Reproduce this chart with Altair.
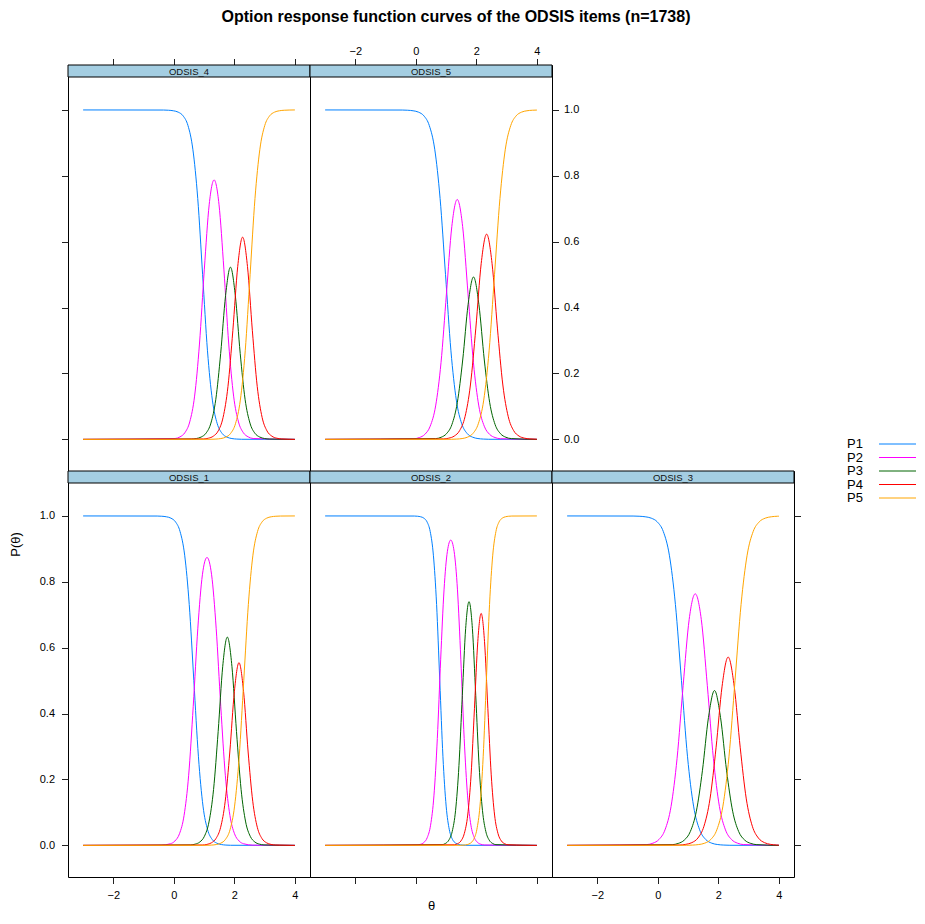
import altair as alt
import pandas as pd

SERIES = ["P1", "P2", "P3", "P4", "P5"]
COLORS = ["#0080ff", "#ff00ff", "#006400", "#ff0000", "#ffa500"]
X_TICKS = [-2, 0, 2, 4]
Y_TICKS = [0.0, 0.2, 0.4, 0.6, 0.8, 1.0]
TITLE = "Option response function curves of the ODSIS items (n=1738)"

# ---------------- ODSIS_1 ----------------
o1_p1_theta = [-3, -0.552, -0.401, -0.249, -0.098, 0.054, 0.205, 0.357, 0.508, 0.66, 0.812, 0.963, 1.115, 1.266, 1.418, 1.569, 1.72, 1.872, 4]
o1_p1_prob = [1.0, 0.9997, 0.9991, 0.9975, 0.9933, 0.982, 0.9526, 0.8808, 0.7311, 0.5, 0.2689, 0.1192, 0.0474, 0.018, 0.0067, 0.0025, 0.0009, 0.0003, 0.0]
o1_p2_theta = [-3, -0.42, -0.117, 0.034, 0.186, 0.337, 0.489, 0.64, 0.792, 0.943, 1.095, 1.247, 1.398, 1.55, 1.701, 1.853, 2.004, 2.156, 2.307, 2.61, 4]
o1_p2_prob = [0, 0.0007, 0.0049, 0.0133, 0.0354, 0.0907, 0.2129, 0.4222, 0.6592, 0.8214, 0.874, 0.8214, 0.6592, 0.4222, 0.2129, 0.0907, 0.0354, 0.0133, 0.0049, 0.0007, 0]
o1_p3_theta = [-3, 0.555, 0.706, 0.858, 1.009, 1.161, 1.312, 1.464, 1.615, 1.767, 1.919, 2.07, 2.222, 2.373, 2.525, 2.676, 2.828, 2.979, 4]
o1_p3_prob = [0, 0.0014, 0.0038, 0.0103, 0.0275, 0.0711, 0.1698, 0.3456, 0.5436, 0.6322, 0.5436, 0.3456, 0.1698, 0.0711, 0.0275, 0.0103, 0.0038, 0.0014, 0]
o1_p4_theta = [-3, 0.94, 1.091, 1.243, 1.394, 1.546, 1.697, 1.849, 2.0, 2.152, 2.304, 2.455, 2.607, 2.758, 2.91, 3.061, 3.213, 3.364, 4]
o1_p4_prob = [0, 0.0011, 0.0029, 0.0079, 0.0211, 0.0549, 0.1339, 0.2834, 0.4669, 0.5546, 0.4669, 0.2834, 0.1339, 0.0549, 0.0211, 0.0079, 0.0029, 0.0011, 0]
o1_p5_theta = [-3, 1.098, 1.25, 1.401, 1.553, 1.704, 1.856, 2.007, 2.159, 2.31, 2.462, 2.613, 2.765, 2.916, 3.068, 3.219, 3.371, 3.522, 4]
o1_p5_prob = [0.0, 0.0003, 0.0009, 0.0025, 0.0067, 0.018, 0.0474, 0.1192, 0.2689, 0.5, 0.7311, 0.8808, 0.9526, 0.982, 0.9933, 0.9975, 0.9991, 0.9997, 1.0]

# ---------------- ODSIS_2 ----------------
o2_p1_theta = [-3, -0.052, 0.053, 0.158, 0.264, 0.369, 0.474, 0.579, 0.685, 0.79, 0.895, 1.001, 1.106, 1.211, 1.316, 1.422, 1.527, 1.632, 4]
o2_p1_prob = [1.0, 0.9997, 0.9991, 0.9975, 0.9933, 0.982, 0.9526, 0.8808, 0.7311, 0.5, 0.2689, 0.1192, 0.0474, 0.018, 0.0067, 0.0025, 0.0009, 0.0003, 0.0]
o2_p2_theta = [-3, 0.042, 0.153, 0.264, 0.375, 0.486, 0.597, 0.709, 0.82, 0.931, 1.042, 1.153, 1.264, 1.375, 1.486, 1.597, 1.709, 1.82, 1.931, 2.042, 2.153, 2.264, 4]
o2_p2_prob = [0, 0.0012, 0.0032, 0.0087, 0.0234, 0.0611, 0.1503, 0.3245, 0.5652, 0.7756, 0.8926, 0.9268, 0.8926, 0.7756, 0.5652, 0.3245, 0.1503, 0.0611, 0.0234, 0.0087, 0.0032, 0.0012, 0]
o2_p3_theta = [-3, 0.868, 0.979, 1.09, 1.201, 1.313, 1.424, 1.535, 1.646, 1.757, 1.868, 1.979, 2.09, 2.201, 2.313, 2.424, 2.535, 2.646, 4]
o2_p3_prob = [0, 0.0022, 0.0059, 0.0159, 0.0421, 0.1064, 0.2423, 0.4552, 0.6588, 0.7398, 0.6588, 0.4552, 0.2423, 0.1064, 0.0421, 0.0159, 0.0059, 0.0022, 0]
o2_p4_theta = [-3, 1.269, 1.38, 1.491, 1.602, 1.714, 1.825, 1.936, 2.047, 2.158, 2.269, 2.38, 2.491, 2.602, 2.714, 2.825, 2.936, 3.047, 4]
o2_p4_prob = [0, 0.0018, 0.005, 0.0136, 0.0362, 0.0921, 0.2141, 0.4148, 0.6191, 0.704, 0.6191, 0.4148, 0.2141, 0.0921, 0.0362, 0.0136, 0.005, 0.0018, 0]
o2_p5_theta = [-3, 1.488, 1.593, 1.698, 1.804, 1.909, 2.014, 2.119, 2.225, 2.33, 2.435, 2.541, 2.646, 2.751, 2.856, 2.962, 3.067, 3.172, 4]
o2_p5_prob = [0.0, 0.0003, 0.0009, 0.0025, 0.0067, 0.018, 0.0474, 0.1192, 0.2689, 0.5, 0.7311, 0.8808, 0.9526, 0.982, 0.9933, 0.9975, 0.9991, 0.9997, 1.0]

# ---------------- ODSIS_3 ----------------
o3_p1_theta = [-3, -0.82, -0.62, -0.42, -0.22, -0.02, 0.18, 0.38, 0.58, 0.78, 0.98, 1.18, 1.38, 1.58, 1.78, 1.98, 2.18, 2.38, 4]
o3_p1_prob = [1.0, 0.9997, 0.9991, 0.9975, 0.9933, 0.982, 0.9526, 0.8808, 0.7311, 0.5, 0.2689, 0.1192, 0.0474, 0.018, 0.0067, 0.0025, 0.0009, 0.0003, 0.0]
o3_p2_theta = [-3, -0.365, -0.165, 0.035, 0.235, 0.435, 0.635, 0.835, 1.035, 1.235, 1.435, 1.635, 1.835, 2.035, 2.235, 2.435, 2.635, 2.835, 4]
o3_p2_prob = [0, 0.0024, 0.0066, 0.0178, 0.047, 0.1178, 0.2643, 0.4847, 0.686, 0.7636, 0.686, 0.4847, 0.2643, 0.1178, 0.047, 0.0178, 0.0066, 0.0024, 0]
o3_p3_theta = [-3, 0.472, 0.672, 0.872, 1.072, 1.272, 1.472, 1.672, 1.872, 2.072, 2.272, 2.472, 2.672, 2.872, 3.072, 3.272, 4]
o3_p3_prob = [0, 0.0022, 0.0059, 0.0159, 0.0418, 0.1037, 0.2264, 0.3879, 0.47, 0.3879, 0.2264, 0.1037, 0.0418, 0.0159, 0.0059, 0.0022, 0]
o3_p4_theta = [-3, 0.723, 0.923, 1.123, 1.323, 1.523, 1.723, 1.923, 2.123, 2.323, 2.523, 2.723, 2.923, 3.123, 3.323, 3.523, 3.723, 3.923, 4]
o3_p4_prob = [0, 0.0011, 0.0031, 0.0083, 0.0223, 0.058, 0.1411, 0.2962, 0.4833, 0.5716, 0.4833, 0.2962, 0.1411, 0.058, 0.0223, 0.0083, 0.0031, 0.0011, 0.0008]
o3_p5_theta = [-3, 0.95, 1.15, 1.35, 1.55, 1.75, 1.95, 2.15, 2.35, 2.55, 2.75, 2.95, 3.15, 3.35, 3.55, 3.75, 3.95, 4]
o3_p5_prob = [0.0, 0.0003, 0.0009, 0.0025, 0.0067, 0.018, 0.0474, 0.1192, 0.2689, 0.5, 0.7311, 0.8808, 0.9526, 0.982, 0.9933, 0.9975, 0.9991, 0.9993]

# ---------------- ODSIS_4 ----------------
o4_p1_theta = [-3, -0.34, -0.179, -0.018, 0.144, 0.305, 0.466, 0.627, 0.789, 0.95, 1.111, 1.273, 1.434, 1.595, 1.757, 1.918, 2.079, 2.24, 4]
o4_p1_prob = [1.0, 0.9997, 0.9991, 0.9975, 0.9933, 0.982, 0.9526, 0.8808, 0.7311, 0.5, 0.2689, 0.1192, 0.0474, 0.018, 0.0067, 0.0025, 0.0009, 0.0003, 0.0]
o4_p2_theta = [-3, 0.04, 0.201, 0.362, 0.524, 0.685, 0.846, 1.007, 1.169, 1.33, 1.491, 1.653, 1.814, 1.975, 2.136, 2.298, 2.459, 2.62, 4]
o4_p2_prob = [0, 0.0027, 0.0075, 0.0201, 0.0529, 0.1313, 0.2894, 0.5167, 0.7139, 0.7876, 0.7139, 0.5167, 0.2894, 0.1313, 0.0529, 0.0201, 0.0075, 0.0027, 0]
o4_p3_theta = [-3, 0.58, 0.741, 0.902, 1.064, 1.225, 1.386, 1.547, 1.709, 1.87, 2.031, 2.193, 2.354, 2.515, 2.676, 2.838, 2.999, 3.16, 4]
o4_p3_prob = [0, 0.001, 0.0026, 0.0071, 0.0189, 0.0495, 0.1216, 0.2608, 0.4365, 0.5227, 0.4365, 0.2608, 0.1216, 0.0495, 0.0189, 0.0071, 0.0026, 0.001, 0]
o4_p4_theta = [-3, 0.982, 1.143, 1.304, 1.466, 1.627, 1.788, 1.949, 2.111, 2.272, 2.433, 2.595, 2.756, 2.917, 3.078, 3.24, 3.401, 3.562, 4]
o4_p4_prob = [0, 0.0013, 0.0036, 0.0097, 0.0258, 0.0667, 0.1604, 0.3298, 0.525, 0.6138, 0.525, 0.3298, 0.1604, 0.0667, 0.0258, 0.0097, 0.0036, 0.0013, 0]
o4_p5_theta = [-3, 1.23, 1.391, 1.552, 1.714, 1.875, 2.036, 2.197, 2.359, 2.52, 2.681, 2.843, 3.004, 3.165, 3.327, 3.488, 3.649, 3.81, 4]
o4_p5_prob = [0.0, 0.0003, 0.0009, 0.0025, 0.0067, 0.018, 0.0474, 0.1192, 0.2689, 0.5, 0.7311, 0.8808, 0.9526, 0.982, 0.9933, 0.9975, 0.9991, 0.9997, 1.0]

# ---------------- ODSIS_5 ----------------
o5_p1_theta = [-3, -0.449, -0.27, -0.092, 0.087, 0.266, 0.444, 0.623, 0.801, 0.98, 1.159, 1.337, 1.516, 1.694, 1.873, 2.052, 2.23, 2.409, 4]
o5_p1_prob = [1.0, 0.9997, 0.9991, 0.9975, 0.9933, 0.982, 0.9526, 0.8808, 0.7311, 0.5, 0.2689, 0.1192, 0.0474, 0.018, 0.0067, 0.0025, 0.0009, 0.0003, 0.0]
o5_p2_theta = [-3, -0.062, 0.117, 0.295, 0.474, 0.653, 0.831, 1.01, 1.188, 1.367, 1.546, 1.724, 1.903, 2.081, 2.26, 2.439, 2.617, 2.796, 4]
o5_p2_prob = [0, 0.002, 0.0056, 0.0151, 0.0401, 0.1015, 0.2327, 0.4418, 0.6459, 0.7282, 0.6459, 0.4418, 0.2327, 0.1015, 0.0401, 0.0151, 0.0056, 0.002, 0]
o5_p3_theta = [-3, 0.655, 0.834, 1.012, 1.191, 1.369, 1.548, 1.726, 1.905, 2.084, 2.262, 2.441, 2.619, 2.798, 2.976, 3.155, 4]
o5_p3_prob = [0, 0.0024, 0.0064, 0.0172, 0.045, 0.1113, 0.2409, 0.409, 0.493, 0.409, 0.2409, 0.1113, 0.045, 0.0172, 0.0064, 0.0024, 0]
o5_p4_theta = [-3, 0.91, 1.089, 1.268, 1.446, 1.625, 1.803, 1.982, 2.16, 2.339, 2.518, 2.696, 2.875, 3.054, 3.232, 3.411, 3.589, 3.768, 4]
o5_p4_prob = [0, 0.0014, 0.0037, 0.01, 0.0266, 0.0689, 0.1651, 0.3378, 0.5343, 0.623, 0.5343, 0.3378, 0.1651, 0.0689, 0.0266, 0.01, 0.0037, 0.0014, 0.0005]
o5_p5_theta = [-3, 1.171, 1.35, 1.528, 1.707, 1.886, 2.064, 2.243, 2.421, 2.6, 2.779, 2.957, 3.136, 3.314, 3.493, 3.672, 3.85, 4]
o5_p5_prob = [0.0, 0.0003, 0.0009, 0.0025, 0.0067, 0.018, 0.0474, 0.1192, 0.2689, 0.5, 0.7311, 0.8808, 0.9526, 0.982, 0.9933, 0.9975, 0.9991, 0.9996]

CURVES = {
    "ODSIS_1": [(o1_p1_theta, o1_p1_prob), (o1_p2_theta, o1_p2_prob), (o1_p3_theta, o1_p3_prob), (o1_p4_theta, o1_p4_prob), (o1_p5_theta, o1_p5_prob)],
    "ODSIS_2": [(o2_p1_theta, o2_p1_prob), (o2_p2_theta, o2_p2_prob), (o2_p3_theta, o2_p3_prob), (o2_p4_theta, o2_p4_prob), (o2_p5_theta, o2_p5_prob)],
    "ODSIS_3": [(o3_p1_theta, o3_p1_prob), (o3_p2_theta, o3_p2_prob), (o3_p3_theta, o3_p3_prob), (o3_p4_theta, o3_p4_prob), (o3_p5_theta, o3_p5_prob)],
    "ODSIS_4": [(o4_p1_theta, o4_p1_prob), (o4_p2_theta, o4_p2_prob), (o4_p3_theta, o4_p3_prob), (o4_p4_theta, o4_p4_prob), (o4_p5_theta, o4_p5_prob)],
    "ODSIS_5": [(o5_p1_theta, o5_p1_prob), (o5_p2_theta, o5_p2_prob), (o5_p3_theta, o5_p3_prob), (o5_p4_theta, o5_p4_prob), (o5_p5_theta, o5_p5_prob)],
}

FONT = "Liberation Sans"
STRIP_FILL = "#a4cee2"
W = 242
PLOT_H = 394
STRIP_H = 12
H = PLOT_H + STRIP_H
X_DOM = [-3.5, 4.5]
Y_LO, Y_HI = -0.096, 1.1
Y_TOP = Y_HI + STRIP_H * (Y_HI - Y_LO) / PLOT_H
COLOR_SCALE = alt.Scale(domain=SERIES, range=COLORS)


def panel_frame(name):
    rows = []
    for s, (th, pr) in zip(SERIES, CURVES[name]):
        for t, p in zip(th, pr):
            rows.append({"theta": t, "p": p, "series": s})
    return pd.DataFrame(rows)


def axis(orient, labels, values, fmt, pad, **extra):
    kw = dict(orient=orient, values=values, labels=labels, ticks=True, tickSize=6.5,
              tickColor="#222222", tickWidth=1, domain=False, grid=False,
              labelFont=FONT, labelFontSize=11, labelColor="black",
              labelPadding=pad, format=fmt, title="")
    kw.update(extra)
    return alt.Axis(**kw)


def panel(name, xax, yax):
    df = panel_frame(name)
    lines = alt.Chart(df).mark_line(interpolate="monotone", strokeWidth=1).encode(
        x=alt.X("theta:Q", scale=alt.Scale(domain=X_DOM, nice=False, zero=False), axis=xax),
        y=alt.Y("p:Q", scale=alt.Scale(domain=[Y_LO, Y_TOP], nice=False, zero=False), axis=yax),
        color=alt.Color("series:N", scale=COLOR_SCALE, legend=None),
    )
    lab = pd.DataFrame({"label": [name]})
    strip = alt.Chart(lab).mark_rect(fill=STRIP_FILL, stroke="black", strokeWidth=1).encode(
        x=alt.value(0), x2=alt.value(W), y=alt.value(0), y2=alt.value(STRIP_H)
    )
    strip_text = alt.Chart(lab).mark_text(font=FONT, fontSize=9.5, color="#111111",
                                          align="center", baseline="middle").encode(
        x=alt.value(W / 2), y=alt.value(STRIP_H / 2 + 0.5), text="label:N"
    )
    return alt.layer(lines, strip, strip_text).properties(width=W, height=H)


p4 = panel("ODSIS_4",
           axis("top", False, X_TICKS, "d", 2),
           axis("left", False, Y_TICKS, ".1f", 7))
p5 = panel("ODSIS_5",
           axis("top", True, X_TICKS, "d", 2),
           axis("right", True, Y_TICKS, ".1f", 5))
p1 = panel("ODSIS_1",
           axis("bottom", True, X_TICKS, "d", 6),
           axis("left", True, Y_TICKS, ".1f", 7, title="P(\u03b8)", titleFont=FONT,
                titleFontSize=13, titleFontWeight="normal", titleColor="black",
                titleX=-46, titleY=73))
p2 = panel("ODSIS_2",
           axis("bottom", False, X_TICKS, "d", 6, title="\u03b8", titleFont=FONT,
                titleFontSize=13, titleFontWeight="normal", titleColor="black",
                titleY=22),
           None)
p3 = panel("ODSIS_3",
           axis("bottom", True, X_TICKS, "d", 6),
           axis("right", False, Y_TICKS, ".1f", 5))

# key, drawn in the empty top-right cell (its marks extend to the right of it)
leg_df = pd.DataFrame({"series": SERIES})
leg_y = alt.Y("series:N", scale=alt.Scale(type="point", domain=SERIES, range=[379, 433], padding=0), axis=None)
legend_text = alt.Chart(leg_df).mark_text(font=FONT, fontSize=13, align="left", baseline="middle",
                                          color="black").encode(
    x=alt.value(295), y=leg_y, text="series:N")
legend_line = alt.Chart(leg_df).mark_rule(strokeWidth=1).encode(
    x=alt.value(327), x2=alt.value(364), y=leg_y,
    color=alt.Color("series:N", scale=COLOR_SCALE, legend=None))
legend_cell = alt.layer(legend_text, legend_line).properties(
    width=W, height=H, view=alt.ViewBackground(strokeOpacity=0))

chart = alt.concat(p4, p5, legend_cell, p1, p2, p3, columns=3, spacing=0, bounds="flush").resolve_scale(
    x="independent", y="independent"
).properties(
    title=alt.TitleParams(TITLE, font=FONT, fontSize=16, fontWeight="bold", color="black",
                          anchor="start", dx=213, offset=20),
    padding={"left": 0, "top": 1, "right": 0, "bottom": 0},
    background="white",
).configure_view(stroke="black", strokeWidth=1)

chart.save("out.html", embed_options={"renderer": "svg", "actions": False})
